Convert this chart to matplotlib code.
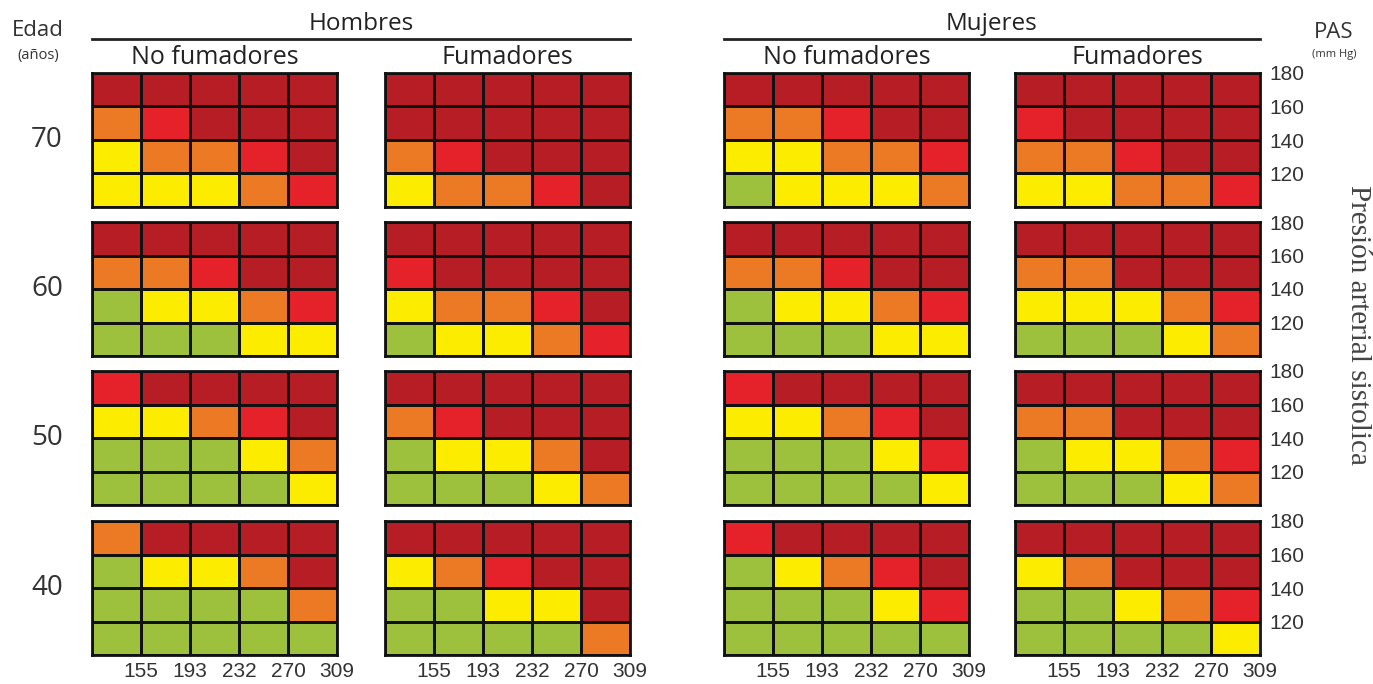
import numpy as np
import matplotlib
matplotlib.use("Agg")
import matplotlib.pyplot as plt
from matplotlib.colors import ListedColormap, BoundaryNorm

# risk level per cell: 0 green, 1 yellow, 2 orange, 3 red, 4 dark red
# rows listed from PAS 180 (top) to 120 (bottom), columns = colesterol 155..309
ages = [70, 60, 50, 40]
pas_labels = ["180", "160", "140", "120"]
col_labels = ["155", "193", "232", "270", "309"]
groups = ["Hombres", "Mujeres"]
smoke_labels = ["No fumadores", "Fumadores"]

hombres_no_fum = {
    70: [[4, 4, 4, 4, 4], [2, 3, 4, 4, 4], [1, 2, 2, 3, 4], [1, 1, 1, 2, 3]],
    60: [[4, 4, 4, 4, 4], [2, 2, 3, 4, 4], [0, 1, 1, 2, 3], [0, 0, 0, 1, 1]],
    50: [[3, 4, 4, 4, 4], [1, 1, 2, 3, 4], [0, 0, 0, 1, 2], [0, 0, 0, 0, 1]],
    40: [[2, 4, 4, 4, 4], [0, 1, 1, 2, 4], [0, 0, 0, 0, 2], [0, 0, 0, 0, 0]],
}
hombres_fum = {
    70: [[4, 4, 4, 4, 4], [4, 4, 4, 4, 4], [2, 3, 4, 4, 4], [1, 2, 2, 3, 4]],
    60: [[4, 4, 4, 4, 4], [3, 4, 4, 4, 4], [1, 2, 2, 3, 4], [0, 1, 1, 2, 3]],
    50: [[4, 4, 4, 4, 4], [2, 3, 4, 4, 4], [0, 1, 1, 2, 4], [0, 0, 0, 1, 2]],
    40: [[4, 4, 4, 4, 4], [1, 2, 3, 4, 4], [0, 0, 1, 1, 4], [0, 0, 0, 0, 2]],
}
mujeres_no_fum = {
    70: [[4, 4, 4, 4, 4], [2, 2, 3, 4, 4], [1, 1, 2, 2, 3], [0, 1, 1, 1, 2]],
    60: [[4, 4, 4, 4, 4], [2, 2, 3, 4, 4], [0, 1, 1, 2, 3], [0, 0, 0, 1, 1]],
    50: [[3, 4, 4, 4, 4], [1, 1, 2, 3, 4], [0, 0, 0, 1, 3], [0, 0, 0, 0, 1]],
    40: [[3, 4, 4, 4, 4], [0, 1, 2, 3, 4], [0, 0, 0, 1, 3], [0, 0, 0, 0, 0]],
}
mujeres_fum = {
    70: [[4, 4, 4, 4, 4], [3, 4, 4, 4, 4], [2, 2, 3, 4, 4], [1, 1, 2, 2, 3]],
    60: [[4, 4, 4, 4, 4], [2, 2, 4, 4, 4], [1, 1, 1, 2, 3], [0, 0, 0, 1, 2]],
    50: [[4, 4, 4, 4, 4], [2, 2, 4, 4, 4], [0, 1, 1, 2, 3], [0, 0, 0, 1, 2]],
    40: [[4, 4, 4, 4, 4], [1, 2, 4, 4, 4], [0, 0, 1, 2, 3], [0, 0, 0, 0, 1]],
}
panels = [hombres_no_fum, hombres_fum, mujeres_no_fum, mujeres_fum]

colors = ["#9dc13c", "#fbec00", "#ec7a24", "#e5222a", "#b71d24"]
cmap = ListedColormap(colors)
norm = BoundaryNorm(np.arange(-0.5, 5.5, 1), cmap.N)

W, H = 1373, 684
fig = plt.figure(figsize=(W / 100, H / 100), dpi=100)
sans = ["Open Sans", "DejaVu Sans"]

def fx(px):
    return px / W

def fy(py):
    return 1 - py / H

panel_left = [92, 385, 724, 1015]
panel_top = [73, 222, 371, 521]
pw, ph = 245, 134

for r, age in enumerate(ages):
    for c, data in enumerate(panels):
        ax = fig.add_axes([fx(panel_left[c]), fy(panel_top[r] + ph), pw / W, ph / H])
        z = np.array(data[age])[::-1]
        ax.pcolormesh(np.arange(6), np.arange(5), z, cmap=cmap, norm=norm,
                      edgecolors="#111111", linewidth=1.8)
        ax.set_xlim(0, 5)
        ax.set_ylim(0, 4)
        for s in ax.spines.values():
            s.set_linewidth(2)
            s.set_color("#111111")
        ax.tick_params(length=0)
        if r == len(ages) - 1:
            ax.set_xticks(np.arange(1, 6))
            ax.set_xticklabels(col_labels, fontsize=15, color="#333333",
                               family="Liberation Sans")
            ax.tick_params(axis="x", pad=5)
        else:
            ax.set_xticks([])
        if c == len(panels) - 1:
            ax.yaxis.tick_right()
            ax.set_yticks([4, 3, 2, 1])
            ax.set_yticklabels(pas_labels, fontsize=15, color="#333333",
                               family="Liberation Sans")
            ax.tick_params(axis="y", pad=7)
        else:
            ax.set_yticks([])
        if c == 0:
            fig.text(fx(47), fy(panel_top[r] + ph / 2), str(age), fontsize=20,
                     ha="center", va="center", color="#333333", family=sans)

# group headers
for g, (a, b) in enumerate([(0, 1), (2, 3)]):
    x0 = panel_left[a]
    x1 = panel_left[b] + pw
    fig.text(fx((x0 + x1) / 2), fy(24), groups[g], fontsize=17.5, ha="center",
             va="center", color="#222222", family=sans)
    fig.add_artist(plt.Line2D([fx(x0), fx(x1)], [fy(39), fy(39)],
                              color="#222222", lw=2))
for c in range(4):
    fig.text(fx(panel_left[c] + pw / 2), fy(57), smoke_labels[c % 2],
             fontsize=18, ha="center", va="center", color="#222222", family=sans)

fig.text(fx(38), fy(31), "Edad", fontsize=16, ha="center", va="center",
         color="#333333", family=sans)
fig.text(fx(38), fy(55), "(años)", fontsize=10.5, ha="center", va="center",
         color="#333333", family=sans)
fig.text(fx(1334), fy(32), "PAS", fontsize=16, ha="center", va="center",
         color="#333333", family=sans)
fig.text(fx(1334), fy(54), "(mm Hg)", fontsize=8, ha="center", va="center",
         color="#333333", family=sans)
fig.text(fx(1358), fy(325), "Presión arterial sistolica", fontsize=21,
         rotation=270, ha="center", va="center", color="#444444",
         family="Liberation Serif")

fig.savefig("out.png", dpi=100, facecolor="white")
